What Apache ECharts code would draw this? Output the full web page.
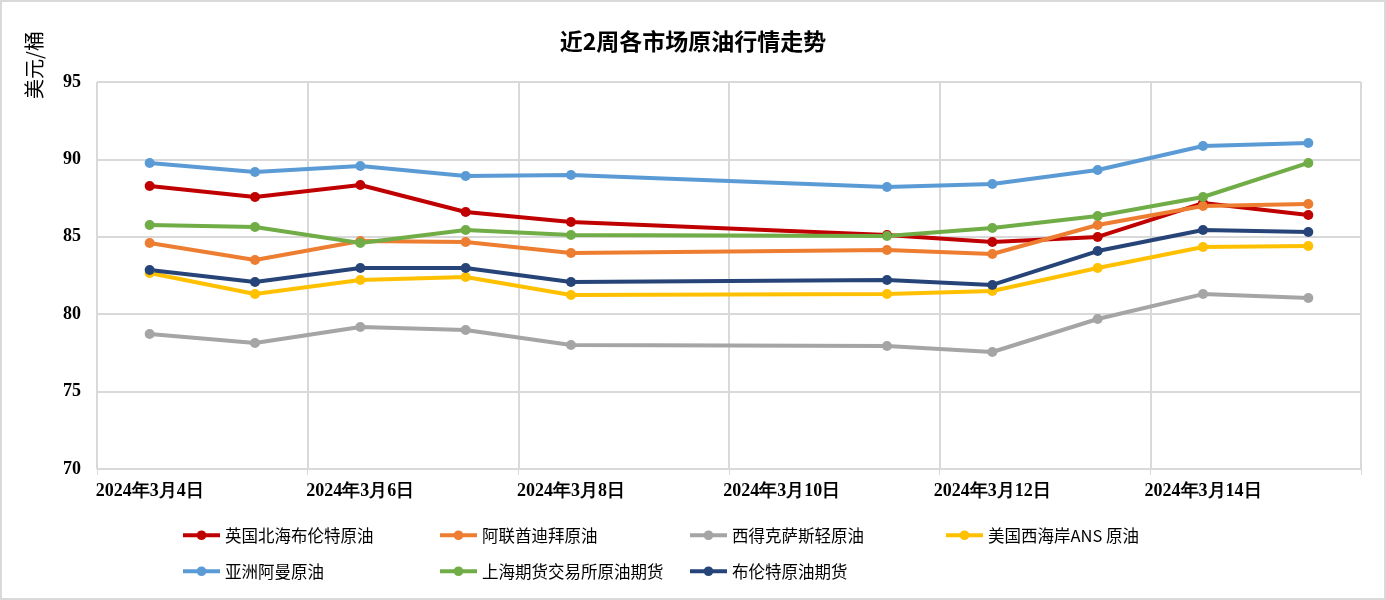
<!DOCTYPE html>
<html>
<head>
<meta charset="utf-8">
<script src="https://cdn.jsdelivr.net/npm/echarts@6/dist/echarts.min.js"></script>
<style>
html,body{margin:0;padding:0;background:#fff;}
#chart{width:1386px;height:600px;}
</style>
</head>
<body>
<div id="chart"></div>
<script>
const categories = ['2024年3月4日','2024年3月5日','2024年3月6日','2024年3月7日','2024年3月8日','2024年3月9日','2024年3月10日','2024年3月11日','2024年3月12日','2024年3月13日','2024年3月14日','2024年3月15日'];
const seriesNames = ['英国北海布伦特原油','阿联酋迪拜原油','西得克萨斯轻原油','美国西海岸ANS 原油','亚洲阿曼原油','上海期货交易所原油期货','布伦特原油期货'];
const brent   = [88.28, 87.57, 88.35, 86.60, 85.96, null, null, 85.12, 84.66, 84.99, 87.18, 86.41];
const dubai   = [84.60, 83.50, 84.73, 84.66, 83.95, null, null, 84.15, 83.89, 85.76, 86.99, 87.12];
const wti     = [78.72, 78.14, 79.17, 78.98, 78.01, null, null, 77.95, 77.56, 79.69, 81.30, 81.05];
const ans     = [82.66, 81.30, 82.21, 82.40, 81.24, null, null, 81.30, 81.50, 82.98, 84.34, 84.41];
const oman    = [89.77, 89.19, 89.57, 88.93, 88.99, null, null, 88.22, 88.41, 89.32, 90.87, 91.06];
const shfe    = [85.76, 85.63, 84.60, 85.44, 85.12, null, null, 85.05, 85.57, 86.34, 87.57, 89.77];
const brentFut= [82.86, 82.08, 82.98, 82.98, 82.08, null, null, 82.21, 81.89, 84.08, 85.44, 85.31];
const yTicks = {min: 70, max: 95, interval: 5};

const seriesData = [brent, dubai, wti, ans, oman, shfe, brentFut];
const colors = ['#C00000','#ED7D31','#A5A5A5','#FFC000','#5B9BD5','#70AD47','#264478'];
const legendLeft = [176, 433, 683, 939, 176, 433, 683];
const legendTop = [522, 522, 522, 522, 558, 558, 558];

const chart = echarts.init(document.getElementById('chart'), null, {renderer:'canvas'});
const option = {
  animation: false,
  backgroundColor: '#fff',
  color: colors,
  title: {
    text: '近2周各市场原油行情走势',
    left: 'center',
    top: 25,
    textStyle: {fontFamily: '"Noto Sans CJK SC"', fontSize: 23, fontWeight: 'bold', color: '#000'}
  },
  graphic: [
    {type: 'rect', shape: {x: 1, y: 1, width: 1384, height: 598}, style: {fill: 'none', stroke: '#d9d9d9', lineWidth: 2}, silent: true},
    {type: 'text', x: 34, y: 65, rotation: Math.PI/2, style: {text: '美元/桶', font: '20px "Noto Sans CJK SC"', fill: '#000', textAlign: 'center', textVerticalAlign: 'middle'}}
  ],
  legend: seriesNames.map((n, i) => ({
    data: [n],
    left: legendLeft[i],
    top: legendTop[i],
    itemWidth: 37,
    itemHeight: 12,
    lineStyle: {width: 4},
    textStyle: {fontFamily: '"Noto Sans CJK SC"', fontSize: 16.5, color: '#000'}
  })),
  grid: {left: 97, right: 25, top: 82, bottom: 131, show: true, borderColor: '#d9d9d9', borderWidth: 1},
  xAxis: {
    type: 'category',
    data: categories,
    boundaryGap: true,
    axisLine: {lineStyle: {color: '#d9d9d9', width: 1}},
    axisTick: {show: true, interval: 1, length: 6, lineStyle: {color: '#d9d9d9'}},
    splitLine: {show: true, interval: 1, lineStyle: {color: '#d9d9d9', width: 2}},
    axisLabel: {interval: 1, margin: 13, fontFamily: '"Liberation Serif", "Times New Roman", serif', fontWeight: 'bold', fontSize: 18, color: '#000'}
  },
  yAxis: {
    type: 'value',
    min: yTicks.min, max: yTicks.max, interval: yTicks.interval,
    axisLine: {show: false},
    axisTick: {show: false},
    splitLine: {lineStyle: {color: '#d9d9d9', width: 2}},
    axisLabel: {margin: 16, fontFamily: '"Liberation Serif", "Times New Roman", serif', fontWeight: 'bold', fontSize: 18, color: '#000'}
  },
  series: seriesNames.map((n, i) => ({
    name: n,
    type: 'line',
    data: seriesData[i],
    connectNulls: true,
    symbol: 'circle',
    symbolSize: 10,
    lineStyle: {width: 4, color: colors[i]},
    itemStyle: {color: colors[i]}
  }))
};
chart.setOption(option);
</script>
</body>
</html>
